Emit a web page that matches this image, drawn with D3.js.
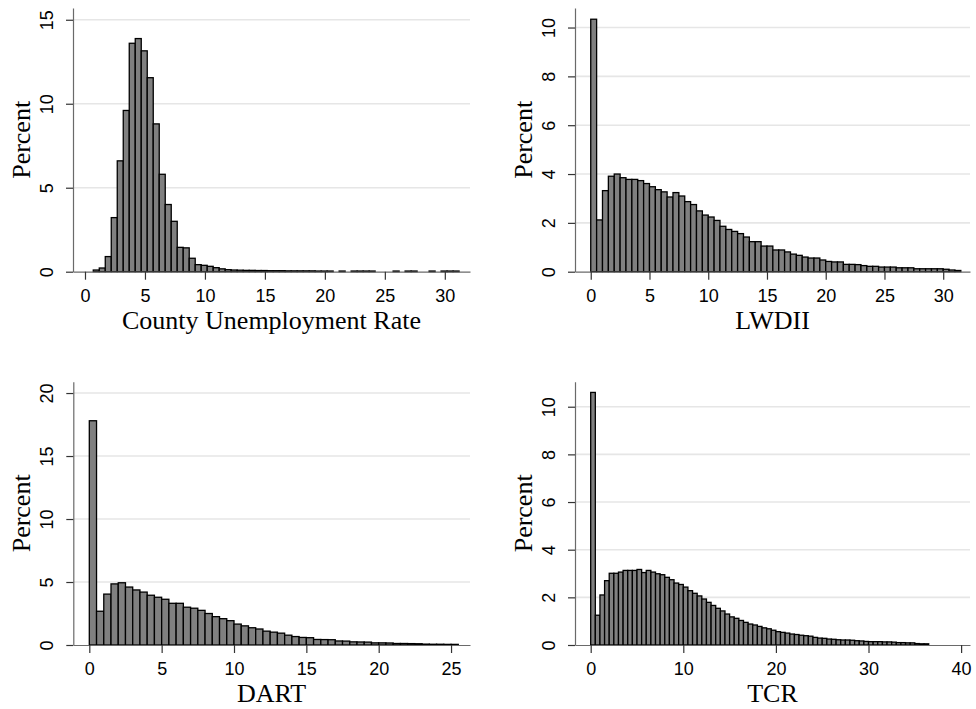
<!DOCTYPE html>
<html><head><meta charset="utf-8">
<script src="https://cdn.jsdelivr.net/npm/d3@7"></script>
<style>body{margin:0;background:#fff} svg{display:block}</style>
</head><body><svg id="c" width="976" height="709"></svg>
<script>
// ---------- data ----------
const binWidth = 0.5;

const unempStart = 0.69;
const unempPercent = [
  0.1, 0.22, 0.9, 3.22, 6.6, 9.6, 13.6, 13.88, 13.15, 11.55,
  8.8, 5.8, 4.0, 3.0, 1.45, 1.42, 0.8, 0.42, 0.38, 0.32,
  0.24, 0.17, 0.12, 0.1, 0.09, 0.08, 0.08, 0.07, 0.07, 0.06,
  0.06, 0.06, 0.05, 0.05, 0.05, 0.05, 0.05, 0.04, 0.04, 0.04,
  0, 0.04, 0, 0.04, 0.04, 0.04, 0.04, 0, 0, 0,
  0.04, 0, 0.04, 0.04, 0, 0, 0.04, 0, 0.04, 0.04, 0.04
];

const lwdiiStart = 0;
const lwdiiPercent = [
  10.34, 2.12, 3.32, 3.91, 4.00, 3.85, 3.78, 3.78, 3.73, 3.61,
  3.48, 3.36, 3.27, 3.06, 3.24, 3.10, 2.87, 2.75, 2.49, 2.32,
  2.24, 2.10, 1.86, 1.73, 1.65, 1.56, 1.42, 1.23, 1.23, 1.05,
  1.05, 0.89, 0.89, 0.81, 0.72, 0.67, 0.60, 0.56, 0.56, 0.48,
  0.42, 0.40, 0.40, 0.30, 0.30, 0.29, 0.25, 0.22, 0.22, 0.19,
  0.19, 0.19, 0.16, 0.16, 0.16, 0.12, 0.12, 0.12, 0.12, 0.12,
  0.10, 0.07, 0.05
];

const dartStart = 0;
const dartPercent = [
  17.8, 2.68, 4.04, 4.85, 4.94, 4.6, 4.37, 4.2, 3.95, 3.79,
  3.63, 3.31, 3.31, 3.0, 2.92, 2.75, 2.5, 2.25, 2.09, 1.93,
  1.66, 1.52, 1.37, 1.27, 1.1, 1.02, 0.94, 0.78, 0.67, 0.6,
  0.58, 0.44, 0.43, 0.42, 0.32, 0.31, 0.25, 0.24, 0.23, 0.17,
  0.17, 0.16, 0.12, 0.12, 0.11, 0.1, 0.07, 0.06, 0.06, 0.05,
  0.05
];

const tcrStart = 0;
const tcrPercent = [
  10.6, 1.25, 2.1, 2.7, 3.01, 3.01, 3.06, 3.13, 3.13, 3.13,
  3.17, 3.04, 3.13, 3.06, 2.99, 2.95, 2.84, 2.74, 2.6, 2.54,
  2.43, 2.28, 2.17, 2.06, 1.93, 1.79, 1.66, 1.54, 1.43, 1.3,
  1.18, 1.12, 1.03, 0.95, 0.88, 0.84, 0.78, 0.72, 0.68, 0.62,
  0.56, 0.53, 0.5, 0.46, 0.44, 0.41, 0.39, 0.37, 0.32, 0.29,
  0.28, 0.25, 0.24, 0.22, 0.21, 0.21, 0.2, 0.18, 0.17, 0.15,
  0.14, 0.14, 0.14, 0.13, 0.13, 0.12, 0.1, 0.1, 0.09, 0.09,
  0.06, 0.05, 0.05
];

const unempXTicks = [0, 5, 10, 15, 20, 25, 30];
const unempYTicks = [0, 5, 10, 15];
const lwdiiXTicks = [0, 5, 10, 15, 20, 25, 30];
const lwdiiYTicks = [0, 2, 4, 6, 8, 10];
const dartXTicks = [0, 5, 10, 15, 20, 25];
const dartYTicks = [0, 5, 10, 15, 20];
const tcrXTicks = [0, 10, 20, 30, 40];
const tcrYTicks = [0, 2, 4, 6, 8, 10];

const titles = ["County Unemployment Rate", "LWDII", "DART", "TCR"];
const yTitle = "Percent";

// ---------- layout ----------
const panels = [
  {title: titles[0], start: unempStart, values: unempPercent, xt: unempXTicks, yt: unempYTicks,
   left: 73, right: 470, top: 8, bottom: 271.7, xd: [-1.0, 32.1], yd: [0, 15.7]},
  {title: titles[1], start: lwdiiStart, values: lwdiiPercent, xt: lwdiiXTicks, yt: lwdiiYTicks,
   left: 575, right: 970, top: 8, bottom: 271.7, xd: [-1.34, 32.28], yd: [0, 10.8]},
  {title: titles[2], start: dartStart, values: dartPercent, xt: dartXTicks, yt: dartYTicks,
   left: 73.3, right: 470, top: 381.7, bottom: 645, xd: [-1.106, 26.31], yd: [0, 20.9]},
  {title: titles[3], start: tcrStart, values: tcrPercent, xt: tcrXTicks, yt: tcrYTicks,
   left: 575, right: 970, top: 381.7, bottom: 645, xd: [-1.695, 40.96], yd: [0, 11.05]}
];

const svg = d3.select("#c");
svg.append("rect").attr("width", 976).attr("height", 709).attr("fill", "#fff");

const sans = "'Liberation Sans', Arial, sans-serif";
const serif = "'Liberation Serif', 'Times New Roman', serif";

panels.forEach(p => {
  const x = d3.scaleLinear().domain(p.xd).range([p.left, p.right]);
  const y = d3.scaleLinear().domain(p.yd).range([p.bottom, p.top]);
  const g = svg.append("g");

  // gridlines
  g.selectAll("line.grid").data(p.yt.filter(t => t > 0)).join("line")
    .attr("x1", p.left).attr("x2", p.right)
    .attr("y1", d => y(d)).attr("y2", d => y(d))
    .attr("stroke", "#e6e6e6").attr("stroke-width", 1.6);

  // bars
  const bars = p.values.map((v, i) => ({x0: p.start + i * binWidth, x1: p.start + (i + 1) * binWidth, v}))
    .filter(d => d.v > 0);
  g.selectAll("rect.bar").data(bars).join("rect")
    .attr("x", d => x(d.x0))
    .attr("width", d => x(d.x1) - x(d.x0))
    .attr("y", d => y(d.v))
    .attr("height", d => y(0) - y(d.v))
    .attr("fill", "#808080").attr("stroke", "#000").attr("stroke-width", 1.3);

  // y axis
  const ya = g.append("g").attr("transform", `translate(${p.left},0)`)
    .call(d3.axisLeft(y).tickValues(p.yt).tickSize(7).tickSizeOuter(0).tickFormat(d3.format("d")));
  ya.select(".domain").attr("stroke", "#6a6a6a").attr("stroke-width", 1.2);
  ya.selectAll(".tick line").attr("stroke", "#333").attr("stroke-width", 1.2);
  ya.selectAll(".tick text")
    .attr("x", 0).attr("dy", null)
    .attr("transform", "translate(-20,0) rotate(-90)")
    .attr("text-anchor", "middle")
    .attr("font-family", sans).attr("font-size", 18).attr("fill", "#000");

  // x axis
  const xa = g.append("g").attr("transform", `translate(0,${p.bottom})`)
    .call(d3.axisBottom(x).tickValues(p.xt).tickSize(8).tickSizeOuter(0).tickFormat(d3.format("d")));
  xa.select(".domain").attr("stroke", "#6a6a6a").attr("stroke-width", 1.2);
  xa.selectAll(".tick line").attr("stroke", "#333").attr("stroke-width", 1.2);
  xa.selectAll(".tick text")
    .attr("y", 30).attr("dy", null)
    .attr("font-family", sans).attr("font-size", 18).attr("fill", "#000");

  // titles
  g.append("text")
    .attr("x", (p.left + p.right) / 2).attr("y", p.bottom + 57)
    .attr("text-anchor", "middle")
    .attr("font-family", serif).attr("font-size", 26).attr("fill", "#000")
    .text(p.title);
  g.append("text")
    .attr("transform", `translate(${p.left - 43},${(p.top + p.bottom) / 2}) rotate(-90)`)
    .attr("text-anchor", "middle")
    .attr("font-family", serif).attr("font-size", 26).attr("fill", "#000")
    .text(yTitle);
});
</script>
</body></html>
